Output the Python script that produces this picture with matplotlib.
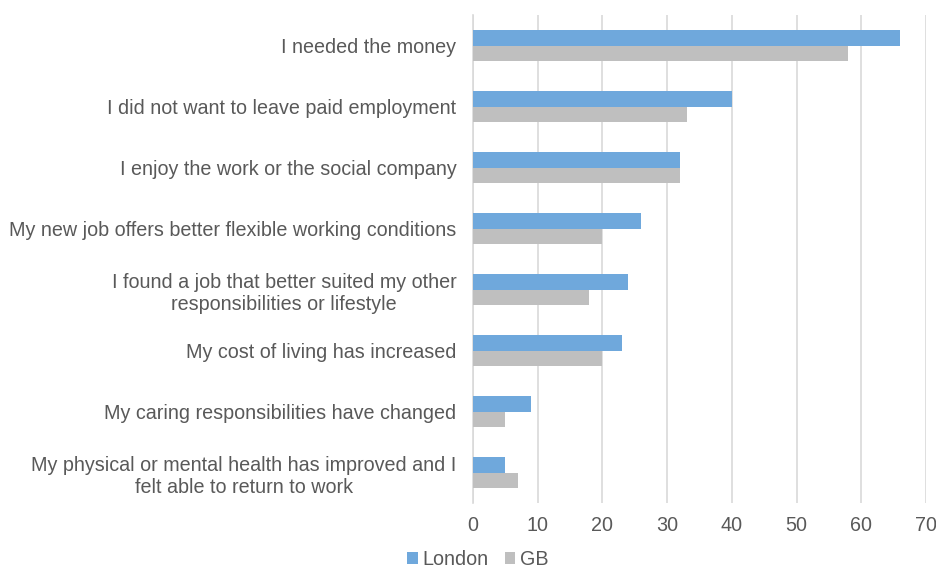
import matplotlib
matplotlib.use("Agg")
import matplotlib.pyplot as plt
import numpy as np

plt.rcParams['font.family'] = ['Liberation Sans', 'DejaVu Sans']

categories = [
    "I needed the money",
    "I did not want to leave paid employment",
    "I enjoy the work or the social company",
    "My new job offers better flexible working conditions",
    "I found a job that better suited my other\nresponsibilities or lifestyle",
    "My cost of living has increased",
    "My caring responsibilities have changed",
    "My physical or mental health has improved and I\nfelt able to return to work",
]
london = [66, 40, 32, 26, 24, 23, 9, 5]
gb = [58, 33, 32, 20, 18, 20, 5, 7]
x_ticks = [0, 10, 20, 30, 40, 50, 60, 70]

text_color = "#595959"
blue = "#6fa8dc"
grey = "#bfbfbf"
fs = 14.2

fig = plt.figure(figsize=(9.37, 5.71), dpi=100)
ax = fig.add_axes([0.5048, 0.119, 0.4835, 0.8547])

y = np.arange(len(categories))
h = 0.25
ax.barh(y - h / 2, london, height=h, color=blue, label="London", zorder=3)
ax.barh(y + h / 2, gb, height=h, color=grey, label="GB", zorder=3)

ax.set_ylim(len(categories) - 0.5, -0.5)
ax.set_xlim(0, 70)
ax.set_xticks(x_ticks)
ax.set_yticks(y)
ax.set_yticklabels(categories, fontsize=fs, color=text_color, ha="right",
                   multialignment="center", linespacing=1.25)
ax.tick_params(axis="x", labelsize=fs, colors=text_color, length=0, pad=9)
ax.tick_params(axis="y", length=0, pad=12)

ax.grid(axis="x", color="#d9d9d9", linewidth=1.2, zorder=0)
ax.set_axisbelow(True)
for s in ["top", "right", "bottom"]:
    ax.spines[s].set_visible(False)
ax.spines["left"].set_color("#d9d9d9")
ax.spines["left"].set_linewidth(1.2)

leg = fig.legend(loc="lower center", bbox_to_anchor=(0.51, -0.028), ncol=2,
                 frameon=False, fontsize=fs, handlelength=0.55, handleheight=0.55,
                 handletextpad=0.25, columnspacing=0.8)
for t in leg.get_texts():
    t.set_color(text_color)

fig.savefig("out.png", dpi=100, facecolor="white")
